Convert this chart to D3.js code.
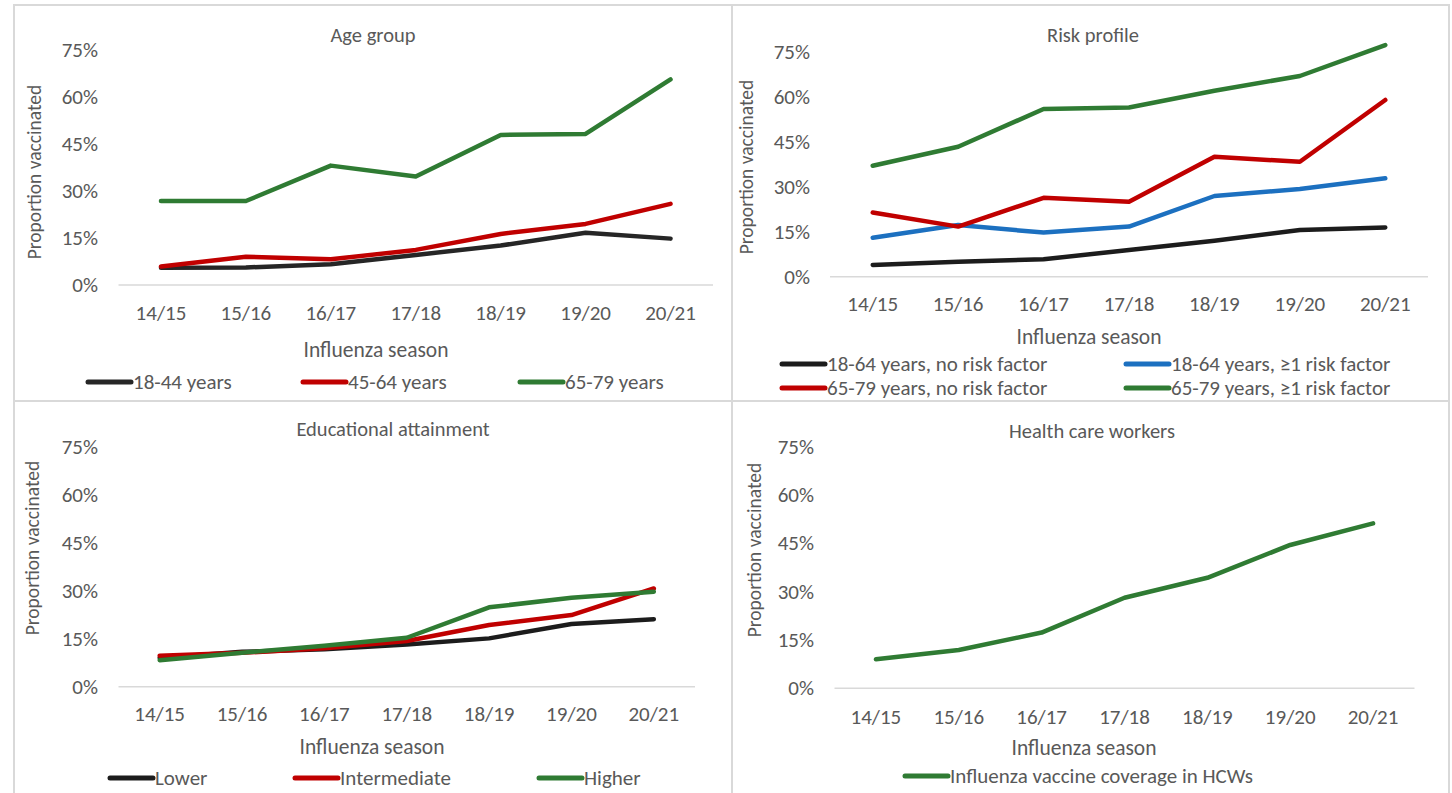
<!DOCTYPE html>
<html>
<head>
<meta charset="utf-8">
<script src="https://cdn.jsdelivr.net/npm/d3@7"></script>
<style>
  body { margin: 0; background: #fff; }
  svg text { font-family: Carlito, Lato, "Liberation Sans", sans-serif; fill: #595959; }
</style>
</head>
<body>
<div id="chart"></div>
<script>
// seasons on the x axis
const seasons = ["14/15", "15/16", "16/17", "17/18", "18/19", "19/20", "20/21"];
const yTicks = [0, 15, 30, 45, 60, 75];

// Age group (% vaccinated)
const age18_44 = [5.5, 5.6, 6.6, 9.6, 12.6, 16.7, 14.8];
const age45_64 = [5.9, 9.0, 8.2, 11.2, 16.3, 19.5, 25.9];
const age65_79 = [26.8, 26.8, 38.1, 34.6, 47.9, 48.2, 65.6];

// Risk profile
const young_noRisk = [3.9, 5.0, 5.8, 8.9, 12.0, 15.6, 16.4];
const young_risk = [13.0, 17.2, 14.7, 16.7, 26.9, 29.2, 32.8];
const old_noRisk = [21.4, 16.7, 26.3, 25.0, 40.0, 38.3, 58.9];
const old_risk = [37.0, 43.3, 55.9, 56.4, 62.0, 66.9, 77.2];

// Educational attainment
const eduLower = [9.0, 10.9, 11.7, 13.2, 15.1, 19.6, 21.1];
const eduIntermediate = [9.7, 10.6, 12.0, 14.3, 19.3, 22.4, 30.7];
const eduHigher = [8.3, 10.6, 12.8, 15.3, 24.8, 27.8, 29.7];

// Health care workers
const hcw = [9.0, 11.9, 17.3, 28.1, 34.3, 44.5, 51.2];

const BLACK = "#1c1c1c", RED = "#c00000", GREEN = "#2f7b33", BLUE = "#1c70c0";

const svg = d3.select("#chart").append("svg")
  .attr("width", 1452)
  .attr("height", 793);

// panel frames
const frame = svg.append("g")
  .attr("fill", "none")
  .attr("stroke", "#d9d9d9")
  .attr("stroke-width", 2);
frame.append("rect").attr("x", 14).attr("y", 5).attr("width", 1435).attr("height", 800);
frame.append("line").attr("x1", 732).attr("x2", 732).attr("y1", 5).attr("y2", 800);
frame.append("line").attr("x1", 14).attr("x2", 1449).attr("y1", 401).attr("y2", 401);

const panels = [
  {
    title: "Age group", titleX: 373, titleY: 35,
    x0: 118.5, x1: 713, y0: 285, y75: 50, tickRight: 98, tickY: 313,
    xTitleX: 376, xTitleY: 350, yTitleX: 34, yTitleY: 172,
    series: [
      { name: "18-44 years", values: age18_44, color: "#262626", lx: 88, ly: 382 },
      { name: "45-64 years", values: age45_64, color: RED, lx: 303, ly: 382 },
      { name: "65-79 years", values: age65_79, color: GREEN, lx: 520, ly: 382 }
    ]
  },
  {
    title: "Risk profile", titleX: 1093, titleY: 35,
    x0: 830, x1: 1428, y0: 276.7, y75: 51.7, tickRight: 810, tickY: 304,
    xTitleX: 1089, xTitleY: 337, yTitleX: 746, yTitleY: 167,
    series: [
      { name: "18-64 years, no risk factor", values: young_noRisk, color: BLACK, lx: 782, ly: 364 },
      { name: "18-64 years, \u22651 risk factor", values: young_risk, color: BLUE, lx: 1126, ly: 364 },
      { name: "65-79 years, no risk factor", values: old_noRisk, color: RED, lx: 782, ly: 388 },
      { name: "65-79 years, \u22651 risk factor", values: old_risk, color: GREEN, lx: 1126, ly: 388 }
    ]
  },
  {
    title: "Educational attainment", titleX: 393, titleY: 429,
    x0: 118.5, x1: 695, y0: 686.7, y75: 446.7, tickRight: 98, tickY: 714,
    xTitleX: 372, xTitleY: 747, yTitleX: 32, yTitleY: 548,
    series: [
      { name: "Lower", values: eduLower, color: BLACK, lx: 110, ly: 778 },
      { name: "Intermediate", values: eduIntermediate, color: RED, lx: 295, ly: 778 },
      { name: "Higher", values: eduHigher, color: GREEN, lx: 539, ly: 778 }
    ]
  },
  {
    title: "Health care workers", titleX: 1092, titleY: 431,
    x0: 834.5, x1: 1414.5, y0: 688.3, y75: 446.7, tickRight: 814, tickY: 717,
    xTitleX: 1084, xTitleY: 748, yTitleX: 754, yTitleY: 550,
    series: [
      { name: "Influenza vaccine coverage in HCWs", values: hcw, color: GREEN, lx: 905, ly: 776 }
    ]
  }
];

panels.forEach(drawPanel);

function drawPanel(p) {
  const g = svg.append("g");

  const x = d3.scaleBand()
    .domain(seasons)
    .range([p.x0, p.x1]);

  const y = d3.scaleLinear()
    .domain([0, 75])
    .range([p.y0, p.y75]);

  // title
  g.append("text")
    .attr("x", p.titleX).attr("y", p.titleY)
    .attr("text-anchor", "middle")
    .attr("dominant-baseline", "central")
    .style("font-size", "20.5px")
    .text(p.title);

  // y tick labels
  g.selectAll(".ytick")
    .data(yTicks)
    .enter().append("text")
    .attr("class", "ytick")
    .attr("x", p.tickRight)
    .attr("y", d => y(d))
    .attr("text-anchor", "end")
    .attr("dominant-baseline", "central")
    .style("font-size", "21px")
    .text(d => d + "%");

  // baseline
  g.append("line")
    .attr("x1", p.x0).attr("x2", p.x1)
    .attr("y1", y(0)).attr("y2", y(0))
    .attr("stroke", "#d9d9d9")
    .attr("stroke-width", 1.5);

  // x tick labels
  g.selectAll(".xtick")
    .data(seasons)
    .enter().append("text")
    .attr("class", "xtick")
    .attr("x", d => x(d) + x.bandwidth() / 2)
    .attr("y", p.tickY)
    .attr("text-anchor", "middle")
    .attr("dominant-baseline", "central")
    .style("font-size", "21px")
    .text(d => d);

  // axis titles
  g.append("text")
    .attr("x", p.xTitleX).attr("y", p.xTitleY)
    .attr("text-anchor", "middle")
    .attr("dominant-baseline", "central")
    .style("font-size", "21.5px")
    .text("Influenza season");

  g.append("text")
    .attr("transform", `translate(${p.yTitleX},${p.yTitleY}) rotate(-90)`)
    .attr("text-anchor", "middle")
    .attr("dominant-baseline", "central")
    .style("font-size", "19.5px")
    .text("Proportion vaccinated");

  // lines
  const line = d3.line()
    .x((d, i) => x(seasons[i]) + x.bandwidth() / 2)
    .y(d => y(d));

  g.selectAll(".series")
    .data(p.series)
    .enter().append("path")
    .attr("class", "series")
    .attr("d", d => line(d.values))
    .attr("fill", "none")
    .attr("stroke", d => d.color)
    .attr("stroke-width", 4.5)
    .attr("stroke-linejoin", "round")
    .attr("stroke-linecap", "round");

  // legend
  const leg = g.selectAll(".leg")
    .data(p.series)
    .enter().append("g")
    .attr("class", "leg")
    .attr("transform", d => `translate(${d.lx},${d.ly})`);

  leg.append("line")
    .attr("x1", 0).attr("x2", 43)
    .attr("stroke", d => d.color)
    .attr("stroke-width", 5)
    .attr("stroke-linecap", "round");

  leg.append("text")
    .attr("x", 45)
    .attr("dominant-baseline", "central")
    .style("font-size", "21px")
    .text(d => d.name);
}
</script>
</body>
</html>
